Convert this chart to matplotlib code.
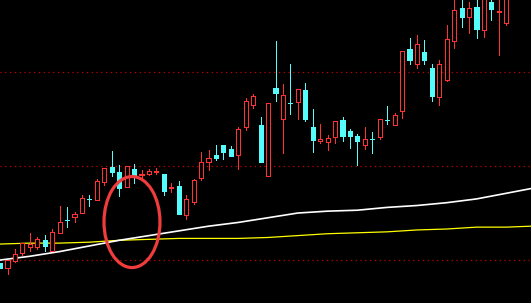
import numpy as np
import matplotlib
matplotlib.use('Agg')
import matplotlib.pyplot as plt
from matplotlib.patches import Ellipse

# daily candles (price units are arbitrary, grid at 10/11/12)
opens = [9.97, 9.91, 9.99, 10.08, 10.14, 10.14, 10.21, 10.10, 10.29, 10.43,
         10.46, 10.50, 10.65, 10.64, 10.83, 10.99, 10.94, 10.78, 10.97, 10.90,
         10.91, 10.94, 10.91, 10.77, 10.79, 10.48, 10.62, 10.87, 11.04, 11.12,
         11.22, 11.18, 11.12, 11.41, 11.65, 11.44, 10.89, 11.83, 11.50, 11.67,
         11.68, 11.81, 11.41, 11.27, 11.26, 11.31, 11.49, 11.37, 11.32, 11.22,
         11.29, 11.31, 11.49, 11.44, 11.59, 12.24, 12.08, 12.21, 12.04, 11.73,
         11.92, 12.33, 12.68, 12.59, 12.69, 12.45, 12.74, 12.64, 12.52]
highs = [9.97, 10.00, 10.12, 10.18, 10.29, 10.24, 10.27, 10.33, 10.57, 10.56,
         10.51, 10.69, 10.69, 10.86, 10.98, 11.16, 11.01, 11.00, 11.02, 10.96,
         10.97, 10.98, 10.91, 10.82, 10.84, 10.69, 10.86, 11.15, 11.17, 11.22,
         11.22, 11.21, 11.41, 11.72, 11.77, 11.52, 11.67, 12.33, 11.87, 12.09,
         11.82, 11.88, 11.61, 11.45, 11.33, 11.48, 11.52, 11.39, 11.34, 11.41,
         11.36, 11.50, 11.64, 11.56, 12.22, 12.36, 12.39, 12.34, 12.09, 12.13,
         12.50, 12.80, 12.80, 12.74, 12.82, 12.90, 12.85, 12.85, 12.85]
lows = [9.91, 9.85, 9.98, 10.05, 10.10, 10.12, 10.10, 10.10, 10.29, 10.35,
        10.40, 10.50, 10.57, 10.64, 10.80, 10.89, 10.68, 10.78, 10.82, 10.86,
        10.90, 10.91, 10.69, 10.72, 10.49, 10.44, 10.60, 10.85, 10.96, 11.06,
        11.07, 11.11, 10.97, 11.38, 11.62, 11.04, 10.89, 11.69, 11.14, 11.55,
        11.50, 11.48, 11.15, 11.25, 11.17, 11.25, 11.27, 11.19, 11.01, 11.18,
        11.14, 11.29, 11.45, 11.44, 11.51, 12.09, 12.04, 12.08, 11.69, 11.65,
        11.90, 12.26, 12.48, 12.41, 12.36, 12.37, 12.55, 12.18, 12.50]
closes = [9.91, 10.00, 10.06, 10.18, 10.17, 10.22, 10.15, 10.30, 10.40, 10.43,
          10.49, 10.66, 10.65, 10.84, 10.98, 10.94, 10.77, 11.00, 10.90, 10.91,
          10.95, 10.95, 10.73, 10.78, 10.49, 10.65, 10.85, 11.04, 11.09, 11.09,
          11.15, 11.11, 11.39, 11.69, 11.74, 11.04, 11.67, 11.78, 11.76, 11.67,
          11.82, 11.50, 11.28, 11.29, 11.30, 11.48, 11.32, 11.32, 11.27, 11.29,
          11.29, 11.50, 11.49, 11.54, 12.22, 12.13, 12.30, 12.13, 11.74, 12.09,
          12.35, 12.66, 12.58, 12.68, 12.46, 12.85, 12.67, 12.65, 12.80]

# the two moving averages, sampled every 4 bars (last point at the right edge)
ma_x = [0, 4, 8, 12, 16, 20, 24, 28, 32, 36, 40, 44, 48, 52, 56, 60, 64, 68, 71.3]
ma_white = [10.00, 10.04, 10.09, 10.15, 10.21, 10.26, 10.31, 10.36, 10.40, 10.45,
            10.50, 10.52, 10.53, 10.56, 10.58, 10.61, 10.65, 10.71, 10.76]
ma_yellow = [10.17, 10.18, 10.18, 10.19, 10.21, 10.22, 10.23, 10.23, 10.23, 10.24,
             10.26, 10.28, 10.29, 10.30, 10.32, 10.33, 10.35, 10.35, 10.36]

grid_levels = [10, 11, 12]

UP = '#ff3232'
DOWN = '#54fcfc'
px = 0.72  # one pixel in points at dpi 100

fig = plt.figure(figsize=(5.31, 3.03), dpi=100, facecolor='black')
ax = fig.add_axes([0, 0, 1, 1])
ax.set_facecolor('black')

for lv in grid_levels:
    ax.axhline(lv, color='#d00000', lw=px * 1.2, ls=(0, (1, 3)), zorder=1)

o = np.array(opens)
h = np.array(highs)
l = np.array(lows)
c = np.array(closes)
x = np.arange(len(o))
up = c > o
cols = np.where(up, UP, DOWN)

ax.vlines(x, l, h, colors=cols, lw=px, zorder=3, antialiased=False)
ax.bar(x[up], (c - o)[up], bottom=o[up], width=0.56, facecolor='black',
       edgecolor=UP, linewidth=px, zorder=4, antialiased=False)
ax.bar(x[~up], (c - o)[~up], bottom=o[~up], width=0.56, facecolor=DOWN,
       edgecolor=DOWN, linewidth=px, zorder=4, antialiased=False)

ax.plot(ma_x, ma_yellow, color='#ffff00', lw=0.9, zorder=2)
ax.plot(ma_x, ma_white, color='white', lw=1.2, zorder=2)

ax.add_patch(Ellipse((17.72, 10.404), 7.52, 0.968, fill=False,
                     edgecolor='#f03c3c', lw=2.3, zorder=6))

ax.set_xlim(-0.01, 71.32)
ax.set_ylim(9.543, 12.766)
ax.axis('off')

fig.savefig('out.png', dpi=100, facecolor='black')
